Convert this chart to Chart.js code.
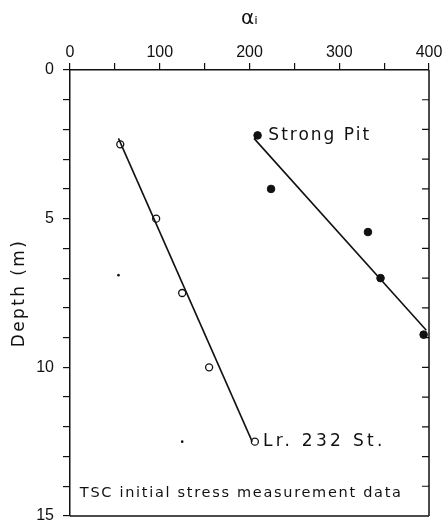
<!DOCTYPE html>
<html>
<head>
<meta charset="utf-8">
<script src="https://cdn.jsdelivr.net/npm/chart.js@4"></script>
<style>
html,body{margin:0;padding:0;background:#fff;}
#wrap{width:444px;height:528px;position:relative;}
</style>
</head>
<body>
<div id="wrap"><canvas id="c"></canvas></div>
<script>
// Lr. 232 St. (open circles)
const lrAlpha = [56, 96, 125, 155, 206];
const lrDepth = [2.5, 5.0, 7.5, 10.0, 12.5];
// Strong Pit (filled circles)
const spAlpha = [209, 224, 332, 346, 394];
const spDepth = [2.2, 4.0, 5.45, 7.0, 8.9];
// fitted lines (end points)
const lrFitAlpha = [54, 203];
const lrFitDepth = [2.3, 12.5];
const spFitAlpha = [205, 397];
const spFitDepth = [2.3, 8.75];
// small stray dots
const strayAlpha = [54, 125];
const strayDepth = [6.9, 12.5];
// axes
const xMin = 0, xMax = 400, xStep = 50, xLabelEvery = 100;
const yMin = 0, yMax = 15, yStep = 1, yLabelEvery = 5;
const xTitle = 'αᵢ';
const yTitle = 'Depth (m)';
// annotations [text, alpha, depth]
const labelTexts = ['Strong Pit', 'Lr. 232 St.', 'TSC initial stress measurement data'];
const labelAlpha = [221, 215, 11];
const labelDepth = [2.2, 12.5, 14.25];

const pts = (xs, ys) => xs.map((x, i) => ({x: x, y: ys[i]}));
const INK = '#111';

const framePlugin = {
  id: 'frame',
  beforeDraw(chart) {
    const s = chart.scales.y;
    if (s && !s._spaced) {
      const orig = s.drawTitle.bind(s);
      s.drawTitle = function () {
        const c = this.ctx; c.save(); c.letterSpacing = '2.4px'; orig(); c.restore();
      };
      s._spaced = true;
    }
  },
  afterDraw(chart) {
    const {ctx, chartArea: a, scales} = chart;
    ctx.save();
    ctx.strokeStyle = INK;
    ctx.lineWidth = 1.5;
    ctx.beginPath();
    ctx.moveTo(a.right, a.top); ctx.lineTo(a.right, a.bottom);
    ctx.moveTo(a.left, a.bottom); ctx.lineTo(a.right, a.bottom);
    ctx.stroke();
    // inward ticks on right side
    ctx.lineWidth = 1.2;
    ctx.beginPath();
    for (let v = yMin + yStep; v < yMax; v += yStep) {
      const py = scales.y.getPixelForValue(v);
      ctx.moveTo(a.right, py); ctx.lineTo(a.right - 7, py);
    }
    ctx.stroke();
    // annotation texts
    ctx.fillStyle = INK;
    ctx.textBaseline = 'middle';
    ctx.textAlign = 'left';
    const fonts = ['17px "DejaVu Sans"', '17px "DejaVu Sans"', '14.5px "DejaVu Sans"'];
    const spacing = ['2px', '3.3px', '1.7px'];
    labelTexts.forEach((t, i) => {
      ctx.font = fonts[i];
      ctx.letterSpacing = spacing[i];
      const px = scales.x.getPixelForValue(labelAlpha[i]);
      const py = scales.y.getPixelForValue(labelDepth[i]);
      ctx.fillText(t, px, py);
    });
    ctx.restore();
  }
};

new Chart(document.getElementById('c'), {
  type: 'scatter',
  data: {
    datasets: [
      {data: pts(lrFitAlpha, lrFitDepth), showLine: true, borderColor: INK, borderWidth: 1.6, pointRadius: 0},
      {data: pts(spFitAlpha, spFitDepth), showLine: true, borderColor: INK, borderWidth: 1.6, pointRadius: 0},
      {data: pts(lrAlpha, lrDepth), pointRadius: 3.5, pointBackgroundColor: '#fff', pointBorderColor: INK, pointBorderWidth: 1.3},
      {data: pts(spAlpha, spDepth), pointRadius: 3.8, pointBackgroundColor: INK, pointBorderColor: INK, pointBorderWidth: 1},
      {data: pts(strayAlpha, strayDepth), pointRadius: 1.3, pointBackgroundColor: INK, pointBorderColor: INK, pointBorderWidth: 0}
    ]
  },
  options: {
    responsive: true,
    maintainAspectRatio: false,
    animation: false,
    events: [],
    layout: {padding: {left: 0, right: 15, top: 0, bottom: 12}},
    plugins: {legend: {display: false}, tooltip: {enabled: false}},
    scales: {
      x: {
        type: 'linear', position: 'top', min: xMin, max: xMax,
        afterFit: s => { s.height = 70; s.paddingLeft = 0; s.paddingRight = 0; },
        grid: {drawOnChartArea: false, drawTicks: true, tickLength: 7, color: INK, lineWidth: 1.2},
        border: {display: true, color: INK, width: 1.5},
        ticks: {stepSize: xStep, autoSkip: false, maxRotation: 0, padding: 1, color: INK,
          font: {family: '"Liberation Sans"', size: 16},
          callback: v => (v % xLabelEvery === 0 ? String(v) : '')},
        title: {display: true, text: xTitle, color: INK, font: {family: '"DejaVu Sans"', size: 20}, padding: {top: 7, bottom: 0}}
      },
      y: {
        type: 'linear', position: 'left', min: yMin, max: yMax, reverse: true,
        afterFit: s => { s.width = 70; s.paddingTop = 0; s.paddingBottom = 0; },
        grid: {drawOnChartArea: false, drawTicks: true, tickLength: 7, color: INK, lineWidth: 1.2},
        border: {display: true, color: INK, width: 1.5},
        ticks: {stepSize: yStep, autoSkip: false, padding: 9, color: INK,
          font: {family: '"Liberation Sans"', size: 16},
          callback: v => (v % yLabelEvery === 0 ? String(v) : '')},
        title: {display: true, text: yTitle, color: INK, font: {family: '"DejaVu Sans"', size: 17}, padding: {top: 9, bottom: 0}}
      }
    }
  },
  plugins: [framePlugin]
});
</script>
</body>
</html>
